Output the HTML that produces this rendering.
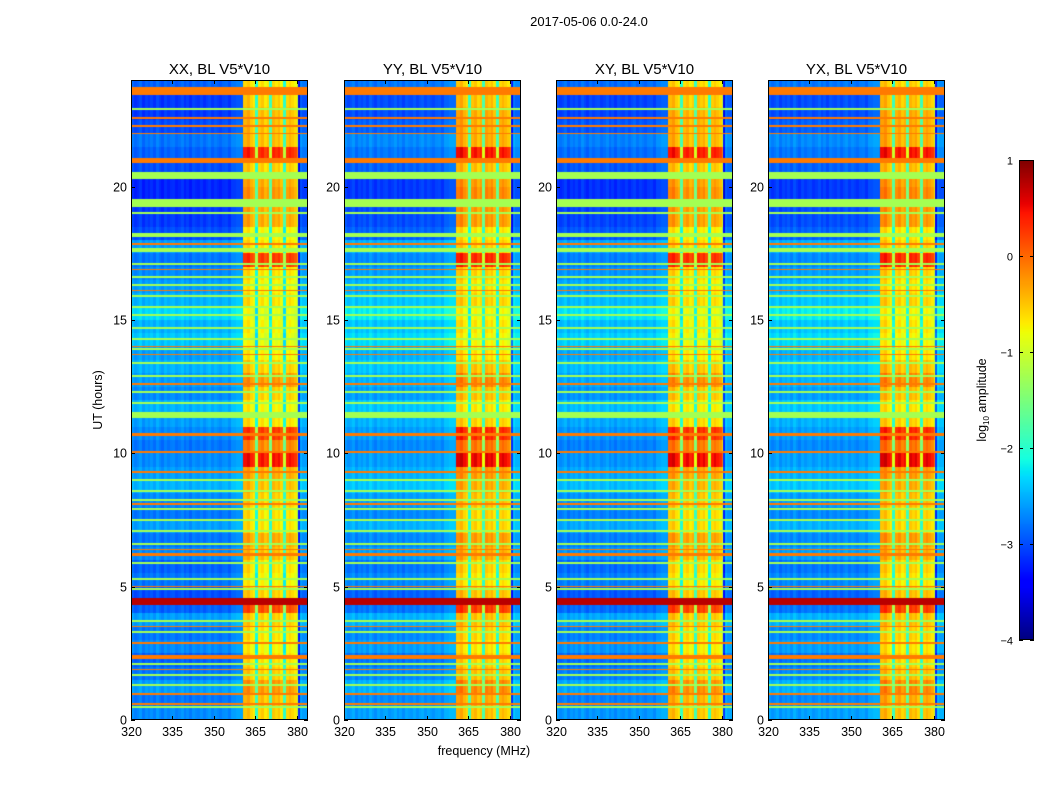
<!DOCTYPE html>
<html><head><meta charset="utf-8">
<style>
body{margin:0;background:#fff;width:1050px;height:800px;overflow:hidden;font-family:"Liberation Sans",sans-serif;}
canvas{position:absolute;}
svg{position:absolute;left:0;top:0;}
</style></head>
<body>
<div id="root"></div>
<svg id="ov" width="1050" height="800"></svg>
<script>
// ---- data ----
const panelTitles = ["XX, BL V5*V10","YY, BL V5*V10","XY, BL V5*V10","YX, BL V5*V10"];
const xTicks = [320,335,350,365,380];
const yTicks = [0,5,10,15,20];
const cbTicks = [1,0,-1,-2,-3,-4];
// background log amplitude per 0.5 h bin (0h upward)
const bgRow = [-2.7,-2.8,-2.6,-2.8,-2.9,-2.7,-2.8,-2.6,-2.9,-3.0,-2.8,-2.9,-2.7,-2.8,-2.6,-2.8,-2.7,-2.5,-2.6,-2.7,-2.8,-2.7,-2.6,-2.5,-2.7,-2.6,-2.5,-2.6,-2.4,-2.5,-2.3,-2.5,-2.6,-2.7,-2.8,-2.6,-3.0,-3.1,-3.1,-3.2,-3.2,-3.0,-2.9,-2.8,-3.0,-3.1,-3.1,-2.9];
// band (360-380 MHz) log amplitude per 0.5 h bin
const bandRow = [-0.6,-0.5,-0.3,-0.6,-0.7,-0.8,-0.7,-0.6,0.1,-0.6,-0.8,-0.7,-0.5,-0.4,-0.7,-0.7,-0.6,-0.5,-0.4,0.4,-0.2,0.2,-0.7,-0.8,-0.6,-0.3,-0.6,-0.8,-0.9,-0.8,-0.9,-0.7,-0.8,-0.7,0.2,-0.7,-0.8,-0.4,-0.4,-0.3,-0.4,-0.6,0.3,-0.5,-0.5,-0.5,-0.6,-0.7];
// per-MHz offset, 320..383
const colOffset = [0.05,-0.05,0,0.08,-0.08,0.03,-0.03,0.05,-0.05,0.1,0,-0.08,0.05,-0.03,0.03,0.05,-0.05,0,0.08,-0.05,0.03,-0.08,0.05,0,-0.03,0.05,-0.05,0.03,0.08,-0.03,0.05,0,-0.05,0.03,0.05,-0.05,0.1,0.1,0.15,0.15,0.1,0.1,0.2,0,-0.1,-1.4,0,0.1,-0.1,0,-1.3,0.1,0,0.1,-0.1,-1.4,0,0.1,0,-0.1,-0.5,0.2,0.1,0.1];
// full-width flagged rows
const flagStart = [23.45,22.55,22.25,20.9,20.3,19.25,18.1,17.8,17.55,12.85,11.32,10.65,10.0,9.25,8.2,6.15,4.31,2.85,2.3,0.95];
const flagEnd   = [23.75,22.62,22.32,21.07,20.55,19.55,18.25,17.9,17.7,12.95,11.55,10.75,10.1,9.35,8.3,6.25,4.57,2.92,2.45,1.02];
const flagValue = [-0.1,-0.1,-0.1,-0.1,-1.25,-1.25,-1.25,-0.1,-1.25,-1.25,-1.25,-0.1,-0.1,-0.1,-1.25,-0.1,0.75,-0.1,-0.1,-0.1];
// thin stripes
const greenLines = [22.9,19.0,17.1,16.6,16.3,15.9,15.5,15.2,14.7,14.3,13.9,13.4,12.3,11.9,9.0,8.6,7.9,7.5,7.1,6.6,5.9,5.3,4.9,3.7,3.3,2.1,1.7,1.3,0.5];
const orangeLines = [22.0,16.9,16.1,14.0,13.7,12.6,8.1,6.4,5.0,3.5,1.9,0.6];
const panelShift = [0,0.1,0.05,0.1];

// ---- layout ----
const px0 = [131,344,556,768], pw=177, py0=80, ph=640;
const fMin=320, fMax=384, tMin=0, tMax=24;
const xs = (f,i)=>px0[i]+(f-fMin)/(fMax-fMin)*pw;
const ys = t=>py0+ph-(t-tMin)/(tMax-tMin)*ph;

function jet(v){
  let t=Math.max(0,Math.min(1,(v+4)/5));
  const lerp=(pts)=>{for(let k=0;k<pts.length-1;k++){const[a,va]=pts[k],[b,vb]=pts[k+1];if(t<=b)return va+(vb-va)*(t-a)/(b-a);}return pts[pts.length-1][1];};
  const r=lerp([[0,0],[0.35,0],[0.66,1],[0.89,1],[1,0.5]]);
  const g=lerp([[0,0],[0.125,0],[0.375,1],[0.64,1],[0.91,0],[1,0]]);
  const b=lerp([[0,0.5],[0.11,1],[0.34,1],[0.65,0],[1,0]]);
  return [r*255|0,g*255|0,b*255|0];
}
function value(f,t,p){
  for(let k=0;k<flagStart.length;k++) if(t>=flagStart[k]&&t<flagEnd[k]) return flagValue[k];
  for(const h of greenLines) if(Math.abs(t-h)<0.035) return -1.25;
  for(const h of orangeLines) if(Math.abs(t-h)<0.025) return -0.1;
  const rb=Math.min(47,Math.floor(t/0.5)), cb=Math.min(63,Math.floor(f-fMin));
  let v;
  if(f>=360.5&&f<380.5) v=bandRow[rb]+panelShift[p]+colOffset[cb];
  else v=bgRow[rb]+panelShift[p]+colOffset[cb];
  return v;
}
const root=document.getElementById('root');
for(let p=0;p<4;p++){
  const c=document.createElement('canvas');
  
  
  c.width=pw;c.height=ph;c.style.left=px0[p]+'px';c.style.top=py0+'px';
  const ctx=c.getContext('2d');const img=ctx.createImageData(pw,ph);
  for(let y=0;y<ph;y++){const t=tMax-(y+0.5)/ph*(tMax-tMin);
    for(let x=0;x<pw;x++){const f=fMin+(x+0.5)/pw*(fMax-fMin);
      const col=jet(value(f,t,p));const o=(y*pw+x)*4;
      img.data[o]=col[0];img.data[o+1]=col[1];img.data[o+2]=col[2];img.data[o+3]=255;}}
  ctx.putImageData(img,0,0);root.appendChild(c);
}
// colorbar
const cbx=1019,cbw=15,cby=160,cbh=480;
const cb=document.createElement('canvas');


cb.width=cbw;cb.height=cbh;cb.style.left=cbx+'px';cb.style.top=cby+'px';
{const ctx=cb.getContext('2d');for(let y=0;y<cbh;y++){const v=1-(y+0.5)/cbh*5;const c=jet(v);ctx.fillStyle=`rgb(${c})`;ctx.fillRect(0,y,cbw,1);}}
root.appendChild(cb);

// ---- overlay ----
const NS='http://www.w3.org/2000/svg';const ov=document.getElementById('ov');
function el(tag,attrs,txt){const e=document.createElementNS(NS,tag);for(const k in attrs)e.setAttribute(k,attrs[k]);if(txt!==undefined)e.textContent=txt;ov.appendChild(e);return e;}
for(let p=0;p<4;p++){
  const r=el('rect',{x:px0[p]+0.5,y:py0+0.5,width:pw-1,height:ph-1,fill:'none',stroke:'#000','stroke-width':1});
  
  
  const tt=el('text',{x:px0[p]+pw/2,y:74,'text-anchor':'middle','font-size':15},panelTitles[p]);
  
  
  for(const f of xTicks){const x=Math.round(xs(f,p))+0.5;
    el('line',{x1:x,x2:x,y1:py0+ph,y2:py0+ph-4,stroke:'#000'});
    el('line',{x1:x,x2:x,y1:py0,y2:py0+4,stroke:'#000'});
    const l=el('text',{x:x,y:py0+ph+16,'text-anchor':'middle','font-size':12.5},String(f));
    
    }
  for(const t of yTicks){const y=Math.round(ys(t))+0.5;
    el('line',{x1:px0[p],x2:px0[p]+4,y1:y,y2:y,stroke:'#000'});
    el('line',{x1:px0[p]+pw,x2:px0[p]+pw-4,y1:y,y2:y,stroke:'#000'});
    const l=el('text',{x:px0[p]-4,y:y+4,'text-anchor':'end','font-size':12.5},String(t));
    
    }
}
let e;
e=el('text',{x:589,y:26,'text-anchor':'middle','font-size':13},'2017-05-06 0.0-24.0');


e=el('text',{x:484,y:755,'text-anchor':'middle','font-size':12.5},'frequency (MHz)');


e=el('text',{x:102,y:400,'text-anchor':'middle','font-size':12.5,transform:'rotate(-90 102 400)'},'UT (hours)');


el('rect',{x:cbx+0.5,y:cby+0.5,width:cbw-1,height:cbh-1,fill:'none',stroke:'#000'});
for(const v of cbTicks){const y=Math.round(cby+(1-v)/5*cbh)+0.5;
  el('line',{x1:cbx,x2:cbx+4,y1:y,y2:y,stroke:'#000'});
  el('line',{x1:cbx+cbw,x2:cbx+cbw-4,y1:y,y2:y,stroke:'#000'});
  e=el('text',{x:cbx-6,y:y+4,'text-anchor':'end','font-size':11},v<0?'\u2212'+(-v):String(v));
  
  }
e=el('text',{x:986,y:400,'text-anchor':'middle','font-size':12.5,transform:'rotate(-90 986 400)'});


e.innerHTML='log<tspan font-size="8" dy="3">10</tspan><tspan dy="-3"> amplitude</tspan>';
</script>
</body></html>
